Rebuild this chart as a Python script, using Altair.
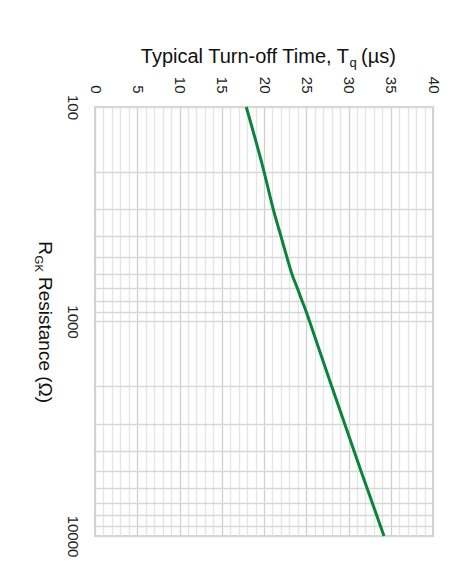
import altair as alt
import pandas as pd

# Data (R_GK in ohms, Tq in microseconds)
R_GK = [100, 200, 300, 400, 500, 600, 700, 800, 900, 1000, 2000, 5000, 10000]
TQ = [17.9, 20.0, 21.1, 22.0, 22.7, 23.3, 23.95, 24.5, 25.0, 25.4, 28.0, 31.5, 34.2]

X_TICKS = list(range(0, 41))
Y_TICKS = [100, 200, 300, 400, 500, 600, 700, 800, 900,
           1000, 2000, 3000, 4000, 5000, 6000, 7000, 8000, 9000, 10000]

FONT = "Liberation Sans"
W, H = 338, 429

df = pd.DataFrame({"R": R_GK, "Tq": TQ})

x_axis = alt.Axis(
    orient="top", values=X_TICKS,
    labelExpr="datum.value % 5 === 0 ? datum.label : ''",
    labelAngle=90, labelAlign="right", labelBaseline="middle",
    labelPadding=14, labelFontSize=15, labelFont=FONT, labelColor="#222222",
    ticks=False, tickSize=0, domain=False, grid=True,
    gridColor={"condition": {"test": "datum.value % 5 === 0", "value": "#d0d0d0"},
               "value": "#e4e4e4"},
    gridWidth=1.3, title=None, labelOverlap=False, labelFlush=False, labelBound=False,
)

y_axis = alt.Axis(
    values=Y_TICKS, format="d",
    labelExpr="datum.value === 100 || datum.value === 1000 || datum.value === 10000 ? datum.label : ''",
    labelAngle=90, labelAlign="center", labelBaseline="top",
    labelPadding=16, labelFontSize=15, labelFont=FONT, labelColor="#222222",
    ticks=False, tickSize=0, domain=False, grid=True,
    gridColor="#d8d8d8", gridWidth=1.3, title=None,
    labelOverlap=False, labelFlush=False, labelBound=False,
)

line = alt.Chart(df).mark_line(
    color="#0a843c", strokeWidth=3, interpolate="monotone"
).encode(
    x=alt.X("Tq:Q", scale=alt.Scale(domain=[0, 40], nice=False, zero=False), axis=x_axis),
    y=alt.Y("R:Q", scale=alt.Scale(type="log", domain=[100, 10000], reverse=True, nice=False),
            axis=y_axis),
)


def txt(s, x, y, size, angle=0, align="left", baseline="alphabetic"):
    return alt.Chart(pd.DataFrame({"t": [s]})).mark_text(
        font=FONT, fontSize=size, angle=angle, align=align, baseline=baseline,
        color="#111111",
    ).encode(text="t:N", x=alt.value(x), y=alt.value(y))


texts = [
    # horizontal x title with subscript
    txt("Typical Turn-off Time, T", 254, -44, 20, align="right"),
    txt("q", 254.5, -40, 13),
    txt("(µs)", 266, -44, 20),
    # rotated y title with subscript
    txt("R", -56.5, 148, 19, angle=90, align="right"),
    txt("GK", -60, 148.5, 11.5, angle=90),
    txt("Resistance (Ω)", -56.5, 170, 19, angle=90),
]

chart = alt.layer(line, *texts).properties(
    width=W, height=H,
    autosize=alt.AutoSizeParams(type="none"),
    padding={"left": 87, "top": 99, "right": 32, "bottom": 43},
    background="white",
).configure_view(stroke="#d4d4d4", strokeWidth=2)

chart.save("out.html", embed_options={"renderer": "svg", "actions": False})
